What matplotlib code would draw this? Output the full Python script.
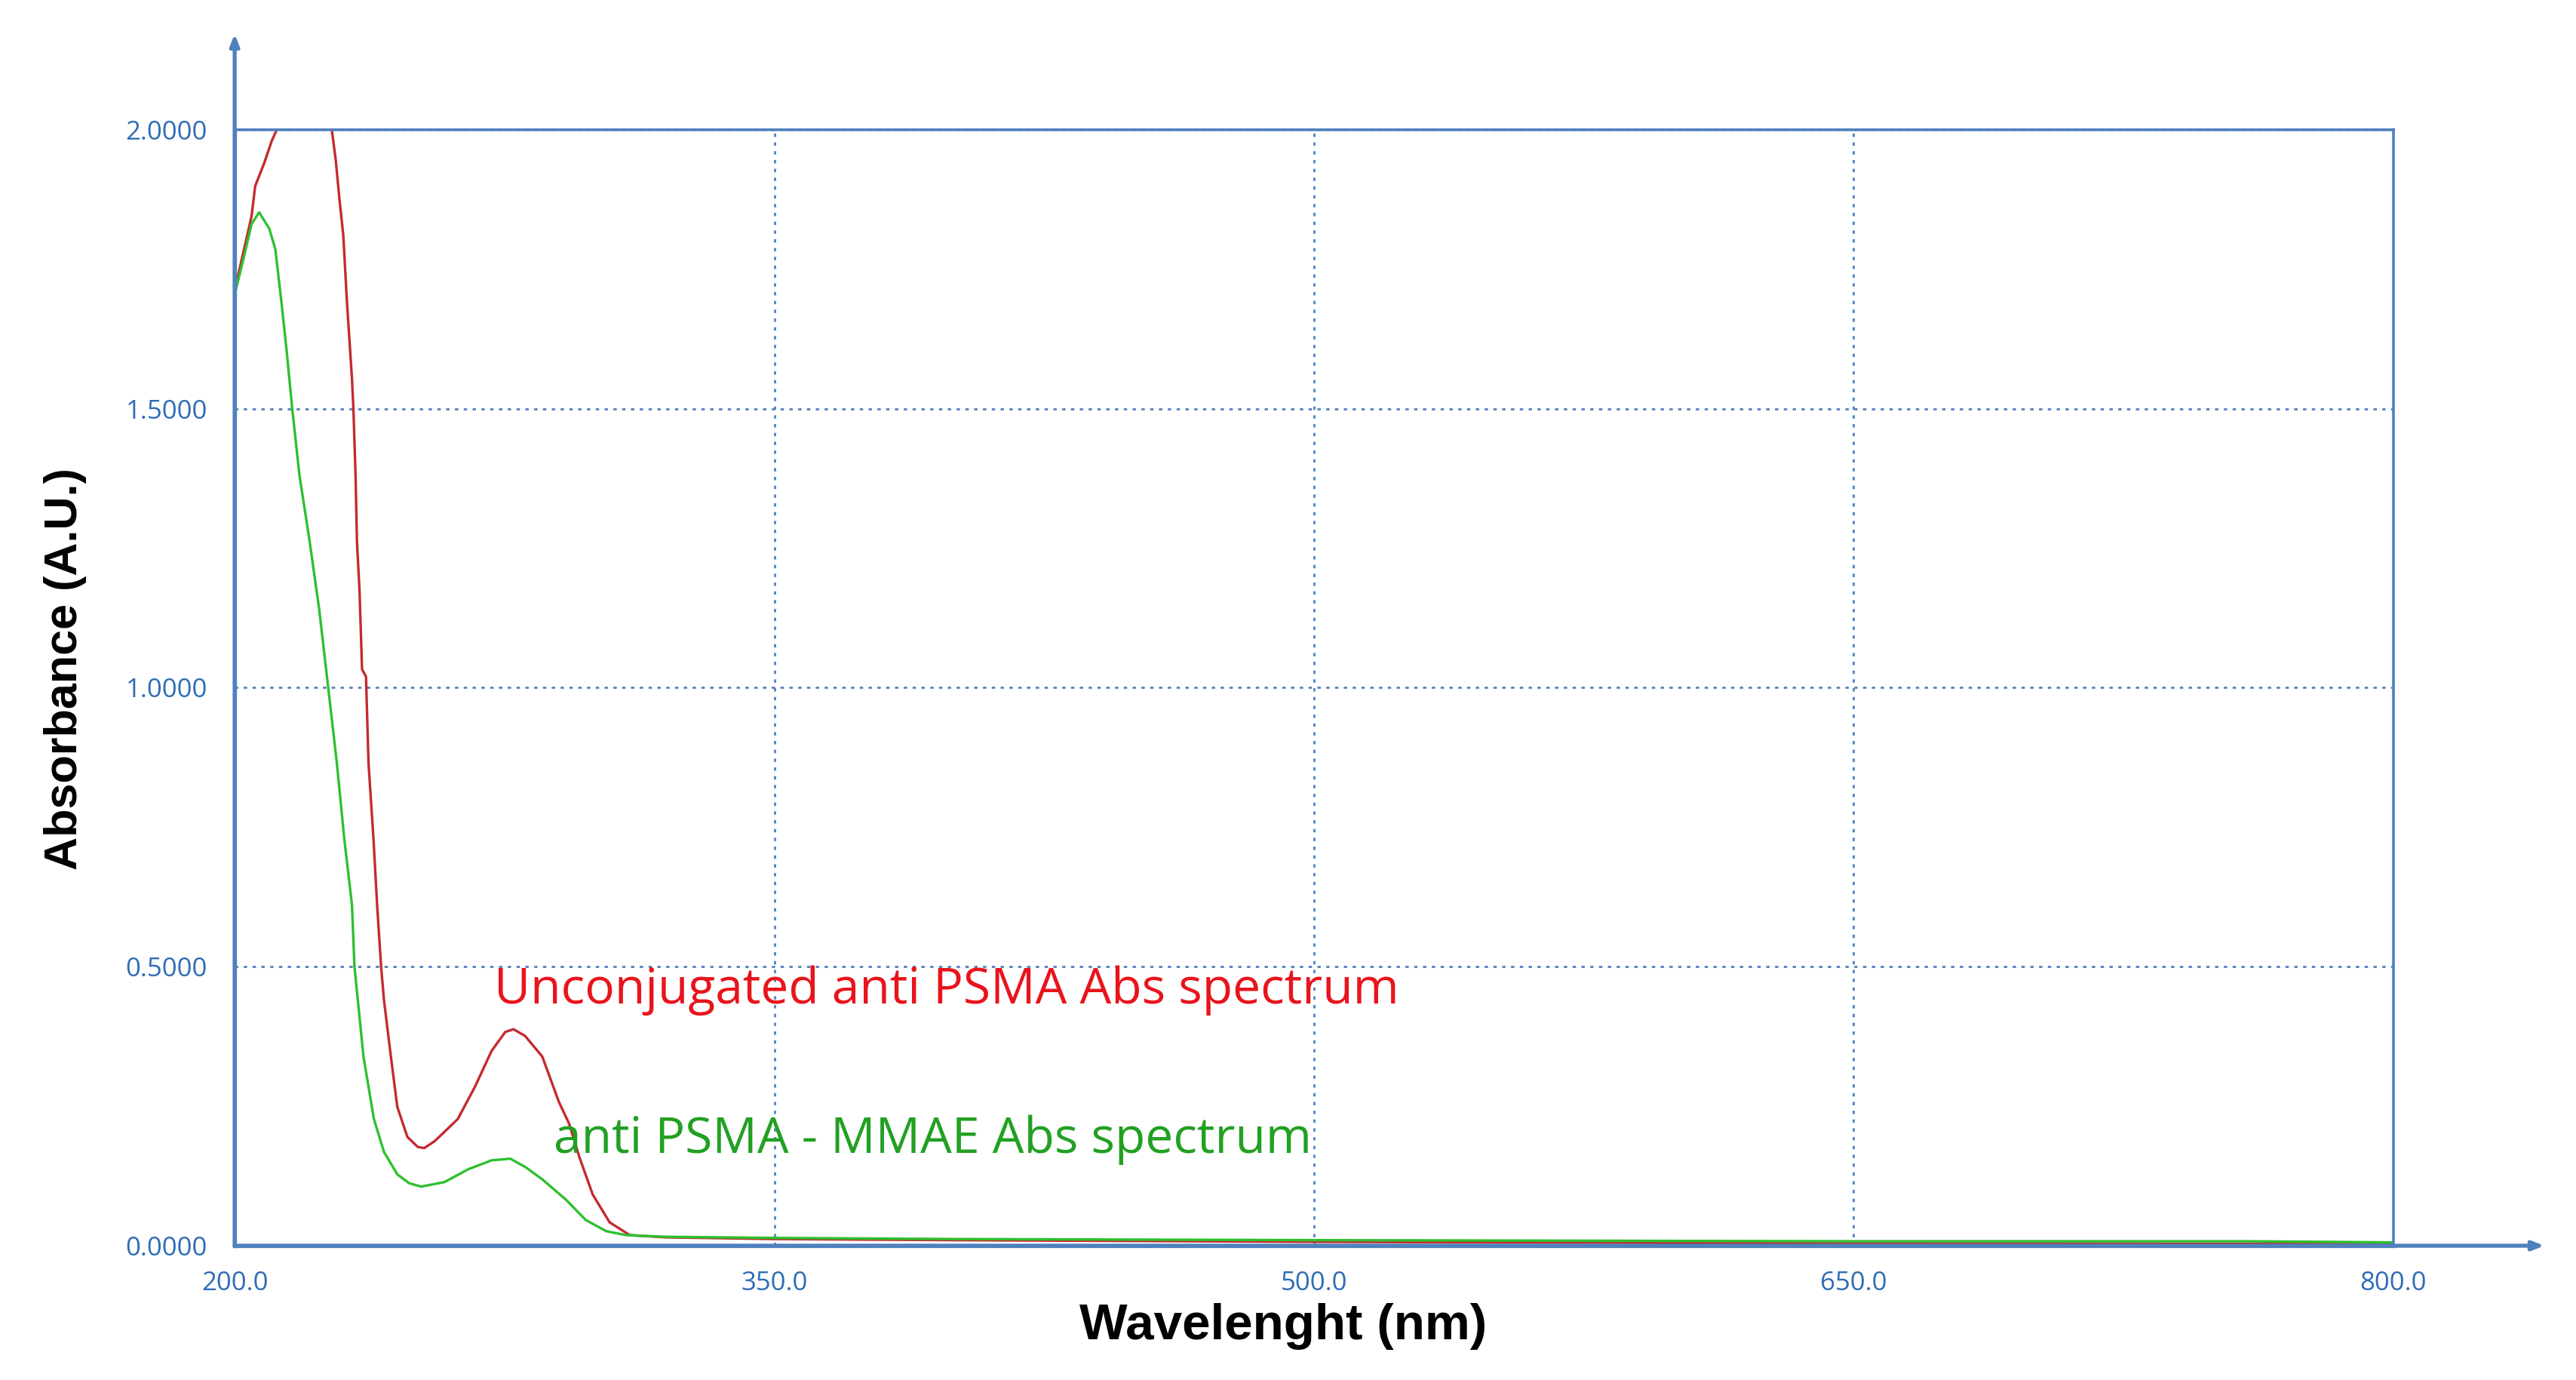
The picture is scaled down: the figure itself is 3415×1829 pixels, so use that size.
"""UV-Vis absorbance spectra of anti PSMA before and after MMAE conjugation."""
import matplotlib
matplotlib.use('Agg')
from matplotlib import pyplot as plt

# unconjugated anti PSMA (values above 2.0 are off scale / saturated)
wl_unconj = [200.4, 202.6, 204.7, 205.7, 208.2, 210.3, 211.7, 215.0, 221.0, 227.0,
             228.1, 229.1, 230.2, 231.2, 232.6, 233.0, 233.6, 234.0, 234.7, 235.4,
             236.5, 237.2, 238.6, 239.6, 240.7, 241.5, 243.4, 245.2, 248.0, 250.9,
             252.7, 255.5, 258.3, 262.0, 266.8, 271.4, 275.2, 277.5, 280.7, 285.5,
             290.1, 293.0, 295.8, 299.5, 304.2, 309.8, 320.0, 350.0, 400.0, 500.0,
             650.0, 800.0]
abs_unconj = [1.723, 1.786, 1.845, 1.899, 1.940, 1.980, 2.000, 2.300, 2.400, 2.000,
              1.945, 1.877, 1.810, 1.692, 1.554, 1.500, 1.380, 1.260, 1.175, 1.033,
              1.020, 0.865, 0.727, 0.610, 0.500, 0.440, 0.340, 0.249, 0.195, 0.177,
              0.175, 0.187, 0.204, 0.227, 0.285, 0.349, 0.383, 0.388, 0.376, 0.339,
              0.258, 0.218, 0.159, 0.092, 0.042, 0.019, 0.015, 0.012, 0.010, 0.007,
              0.004, 0.003]

# anti PSMA - MMAE conjugate
wl_adc = [200.4, 202.5, 204.7, 206.8, 209.6, 211.3, 213.1, 214.5, 216.0, 218.0,
          220.8, 223.5, 226.0, 228.4, 230.5, 232.6, 233.3, 235.8, 238.7, 241.5,
          245.2, 248.5, 251.8, 258.3, 264.9, 271.4, 276.6, 280.8, 285.5, 292.0,
          297.6, 303.3, 308.8, 320.0, 350.0, 400.0, 500.0, 650.0, 760.0, 800.0]
abs_adc = [1.715, 1.770, 1.831, 1.852, 1.823, 1.786, 1.685, 1.600, 1.500, 1.381,
           1.264, 1.140, 1.000, 0.865, 0.727, 0.611, 0.500, 0.339, 0.227, 0.168,
           0.128, 0.112, 0.106, 0.114, 0.137, 0.153, 0.156, 0.141, 0.119, 0.083,
           0.046, 0.026, 0.019, 0.016, 0.014, 0.012, 0.010, 0.008, 0.008, 0.006]

x_ticks = [200.0, 350.0, 500.0, 650.0, 800.0]
y_ticks = [0.0, 0.5, 1.0, 1.5, 2.0]

AXIS_BLUE = '#4f81bd'
LABEL_BLUE = '#2f6db5'


def absorbance_plot():
    fig = plt.figure(figsize=(34.15, 18.29), dpi=100)
    ax = fig.add_axes([0.0911, 0.0973, 0.838, 0.8087])

    ax.plot(wl_unconj, abs_unconj, color='#c42a2e', linewidth=2.4)
    ax.plot(wl_adc, abs_adc, color='#2ec02e', linewidth=2.4)

    ax.set_xlim(200, 800)
    ax.set_ylim(0, 2.0)
    ax.set_xticks(x_ticks)
    ax.set_yticks(y_ticks)
    ax.set_xticklabels(['{:.1f}'.format(v) for v in x_ticks])
    ax.set_yticklabels(['{:.4f}'.format(v) for v in y_ticks])
    ax.tick_params(length=0, labelcolor=LABEL_BLUE)
    ax.tick_params(axis='x', pad=24)
    ax.tick_params(axis='y', pad=26)
    for lbl in ax.get_xticklabels() + ax.get_yticklabels():
        lbl.set_family('Open Sans')
        lbl.set_fontsize(25)

    ax.grid(True, color=AXIS_BLUE, linestyle=(0, (1.6, 2.6)), linewidth=2.0)
    for side in ['top', 'right']:
        ax.spines[side].set_color(AXIS_BLUE)
        ax.spines[side].set_linewidth(2.6)
    for side in ['left', 'bottom']:
        ax.spines[side].set_color(AXIS_BLUE)
        ax.spines[side].set_linewidth(3.8)

    # axis arrows running past the plot frame
    arrow = dict(arrowstyle='-|>,head_length=0.9,head_width=0.35',
                 color=AXIS_BLUE, linewidth=3.8, shrinkA=0, shrinkB=0)
    ax.annotate('', xy=(0, 1.086), xytext=(0, 0), xycoords='axes fraction',
                arrowprops=arrow, annotation_clip=False)
    ax.annotate('', xy=(1.07, 0), xytext=(0, 0), xycoords='axes fraction',
                arrowprops=arrow, annotation_clip=False)

    ax.set_xlabel('Wavelenght (nm)', fontsize=48.5, fontweight='bold',
                  family='Liberation Sans', va='center')
    ax.xaxis.set_label_coords(0.4856, -0.072)
    ax.set_ylabel('Absorbance (A.U.)', fontsize=44, fontweight='bold',
                  family='Liberation Sans', va='center')
    ax.yaxis.set_label_coords(-0.0785, 0.517)

    ax.text(272, 0.457, 'Unconjugated anti PSMA Abs spectrum', color='#e8141c',
            fontsize=47.5, family='Open Sans', va='center', ha='left')
    ax.text(288.6, 0.19, 'anti PSMA - MMAE Abs spectrum', color='#22a022',
            fontsize=47.5, family='Open Sans', va='center', ha='left')

    fig.savefig('out.png', dpi=100)


if __name__ == '__main__':
    absorbance_plot()
